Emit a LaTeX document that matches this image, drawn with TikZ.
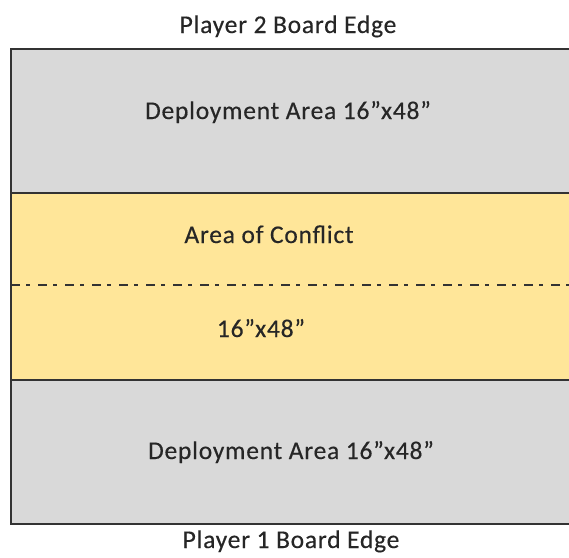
\documentclass[tikz,border=0pt]{standalone}
\usepackage{fontspec}
\setmainfont{Carlito}[LetterSpace=3, FakeBold=0.4]
\usetikzlibrary{positioning}
\definecolor{deploygray}{HTML}{D9D9D9}
\definecolor{conflictgold}{HTML}{FFE699}
\definecolor{edgeline}{HTML}{333333}

\begin{document}
\begin{tikzpicture}[
    x=1pt, y=-1pt,
    zone/.style={draw=edgeline, line width=1.2pt},
    midline/.style={draw=edgeline, line width=1.2pt,
                    dash pattern=on 9pt off 6pt on 3.5pt off 8.5pt},
    lbl/.style={anchor=base, inner sep=0pt, text=black!85,
                font=\fontsize{25.5}{30}\selectfont}
  ]
    \clip (0,0) rectangle (569,557);

    % board zones
    \filldraw[zone, fill=deploygray]   (11,49)  rectangle (580,193);
    \filldraw[zone, fill=conflictgold] (11,193) rectangle (580,380);
    \filldraw[zone, fill=deploygray]   (11,380) rectangle (580,524);
    \coordinate (midL) at (11,285);
    \coordinate (midR) at (580,285);
    \draw[midline] (midL) -- (midR);

    \node[lbl] (p2edge)   at (288,33)  {Player 2 Board Edge};
    \node[lbl] (p2deploy) at (288,119) {Deployment Area 16”x48”};
    \node[lbl] (conflict) at (269,243) {Area of Conflict};
    \node[lbl] (size)     at (261,337) {16”x48”};
    \node[lbl] (p1deploy) at (291,459) {Deployment Area 16”x48”};
    \node[lbl] (p1edge)   at (291,548) {Player 1 Board Edge};
\end{tikzpicture}
\end{document}
